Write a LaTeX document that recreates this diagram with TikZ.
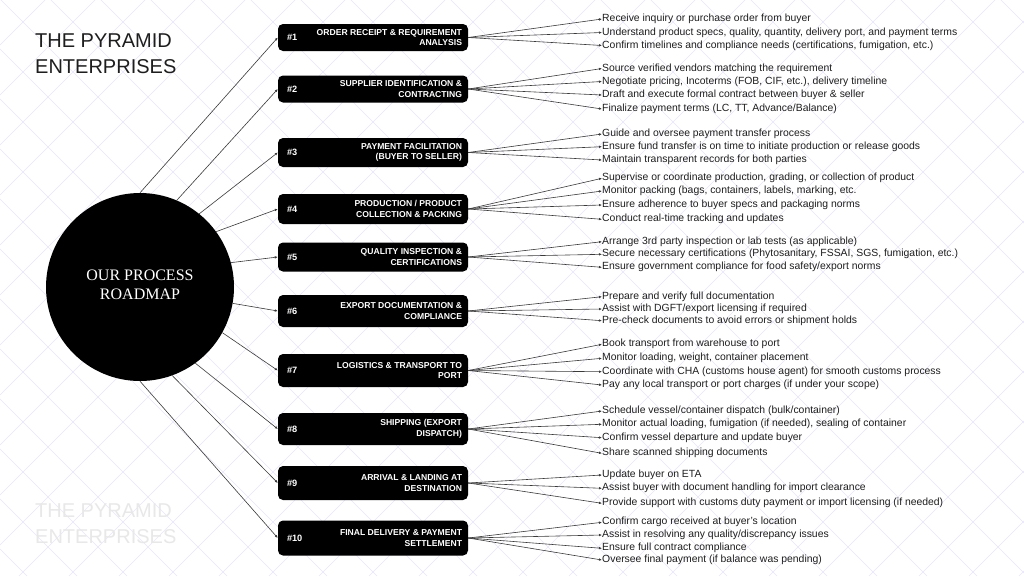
\documentclass[tikz,border=0pt]{standalone}
\usepackage{fontspec}
\setmainfont{Liberation Sans}
\newfontfamily\serifx{Liberation Serif}
\usetikzlibrary{arrows.meta}
\definecolor{gridc}{HTML}{E9E5FA}
\definecolor{linec}{HTML}{3A3A3A}
\definecolor{txtc}{HTML}{1E1E1E}
\definecolor{wmark}{HTML}{E8E8E8}
\begin{document}
\begin{tikzpicture}[x=1pt,y=-1pt,
  stepbox/.style={fill=black, rounded corners=5pt, minimum width=190pt, inner sep=0pt},
  numlbl/.style={text=white, font=\bfseries\fontsize{9.2}{10}\selectfont, anchor=west, inner sep=0pt},
  steplbl/.style={text=white, font=\bfseries\fontsize{8.6}{10.6}\selectfont, align=right, anchor=east, inner sep=0pt},
  item/.style={text=txtc, font=\fontsize{10.4}{12}\selectfont, anchor=west, inner sep=0pt},
  conn/.style={draw=linec, line width=0.6pt, -{Latex[length=3pt,width=2.6pt]}},
  titlelbl/.style={font=\fontsize{20}{24}\selectfont, anchor=base west, inner sep=0pt},
]
\useasboundingbox (0,0) rectangle (1024,576);
\fill[white] (0,0) rectangle (1024,576);
\begin{scope}
\clip (0,0) rectangle (1024,576);
\foreach \k in {-12,...,21} \draw[gridc, line width=0.6pt] ({1+50*\k},0) -- ({577+50*\k},576);
\foreach \k in {0,...,33} \draw[gridc, line width=0.6pt] ({45+50*\k},0) -- ({-531+50*\k},576);
\end{scope}

% titles
\node[titlelbl, text=txtc] (t1) at (35,47) {THE PYRAMID};
\node[titlelbl, text=txtc] (t2) at (35,73) {ENTERPRISES};
\node[titlelbl, text=wmark] (w1) at (35,517) {THE PYRAMID};
\node[titlelbl, text=wmark] (w2) at (35,543) {ENTERPRISES};

% central circle
\node[circle, fill=black, minimum size=188pt, inner sep=0pt] (c) at (140,287) {};
\node[text=white, font=\serifx\fontsize{16}{19}\selectfont, align=center, inner sep=0pt] (ct) at (140,285) {OUR PROCESS\\ROADMAP};

% step boxes
\node[stepbox, minimum height=27pt] (s1) at (373,37.5) {};
\node[stepbox, minimum height=27pt] (s2) at (373,89) {};
\node[stepbox, minimum height=29pt] (s3) at (373,152.5) {};
\node[stepbox, minimum height=30pt] (s4) at (373,209) {};
\node[stepbox, minimum height=29pt] (s5) at (373,257) {};
\node[stepbox, minimum height=32pt] (s6) at (373,311) {};
\node[stepbox, minimum height=33pt] (s7) at (373,370.5) {};
\node[stepbox, minimum height=32pt] (s8) at (373,429) {};
\node[stepbox, minimum height=34pt] (s9) at (373,483) {};
\node[stepbox, minimum height=35pt] (s10) at (373,538) {};

\foreach \i in {1,...,10} {
  \node[numlbl] (n\i) at ([xshift=9pt]s\i.west) {\#\i};
}
\node[steplbl] (l1) at ([xshift=-6pt]s1.east) {ORDER RECEIPT \& REQUIREMENT\\ANALYSIS};
\node[steplbl] (l2) at ([xshift=-6pt]s2.east) {SUPPLIER IDENTIFICATION \&\\CONTRACTING};
\node[steplbl] (l3) at ([xshift=-6pt]s3.east) {PAYMENT FACILITATION\\(BUYER TO SELLER)};
\node[steplbl] (l4) at ([xshift=-6pt]s4.east) {PRODUCTION / PRODUCT\\COLLECTION \& PACKING};
\node[steplbl] (l5) at ([xshift=-6pt]s5.east) {QUALITY INSPECTION \&\\CERTIFICATIONS};
\node[steplbl] (l6) at ([xshift=-6pt]s6.east) {EXPORT DOCUMENTATION \&\\COMPLIANCE};
\node[steplbl] (l7) at ([xshift=-6pt]s7.east) {LOGISTICS \& TRANSPORT TO\\PORT};
\node[steplbl] (l8) at ([xshift=-6pt]s8.east) {SHIPPING (EXPORT\\DISPATCH)};
\node[steplbl] (l9) at ([xshift=-6pt]s9.east) {ARRIVAL \& LANDING AT\\DESTINATION};
\node[steplbl] (l10) at ([xshift=-6pt]s10.east) {FINAL DELIVERY \& PAYMENT\\SETTLEMENT};

% circle to boxes
\draw[conn] (c.90) -- (s1.west);
\draw[conn] (c.67) -- (s2.west);
\draw[conn] (c.51) -- (s3.west);
\draw[conn] (c.36) -- (s4.west);
\draw[conn] (c.15) -- (s5.west);
\draw[conn] (c.-10) -- (s6.west);
\draw[conn] (c.-29) -- (s7.west);
\draw[conn] (c.-54) -- (s8.west);
\draw[conn] (c.-70) -- (s9.west);
\draw[conn] (c.-90) -- (s10.west);

% items
\node[item] (b1a) at (602,19) {Receive inquiry or purchase order from buyer};
\node[item] (b1b) at (602,32.5) {Understand product specs, quality, quantity, delivery port, and payment terms};
\node[item] (b1c) at (602,45.5) {Confirm timelines and compliance needs (certifications, fumigation, etc.)};
\node[item] (b2a) at (602,68.5) {Source verified vendors matching the requirement};
\node[item] (b2b) at (602,81.5) {Negotiate pricing, Incoterms (FOB, CIF, etc.), delivery timeline};
\node[item] (b2c) at (602,95) {Draft and execute formal contract between buyer \& seller};
\node[item] (b2d) at (602,109) {Finalize payment terms (LC, TT, Advance/Balance)};
\node[item] (b3a) at (602,134) {Guide and oversee payment transfer process};
\node[item] (b3b) at (602,146.7) {Ensure fund transfer is on time to initiate production or release goods};
\node[item] (b3c) at (602,160) {Maintain transparent records for both parties};
\node[item] (b4a) at (602,178.3) {Supervise or coordinate production, grading, or collection of product};
\node[item] (b4b) at (602,191) {Monitor packing (bags, containers, labels, marking, etc.};
\node[item] (b4c) at (602,205) {Ensure adherence to buyer specs and packaging norms};
\node[item] (b4d) at (602,219.3) {Conduct real-time tracking and updates};
\node[item] (b5a) at (602,241.7) {Arrange 3rd party inspection or lab tests (as applicable)};
\node[item] (b5b) at (602,254.3) {Secure necessary certifications (Phytosanitary, FSSAI, SGS, fumigation, etc.)};
\node[item] (b5c) at (602,267.3) {Ensure government compliance for food safety/export norms};
\node[item] (b6a) at (602,296.7) {Prepare and verify full documentation};
\node[item] (b6b) at (602,309) {Assist with DGFT/export licensing if required};
\node[item] (b6c) at (602,320.7) {Pre-check documents to avoid errors or shipment holds};
\node[item] (b7a) at (602,344.3) {Book transport from warehouse to port};
\node[item] (b7b) at (602,358.3) {Monitor loading, weight, container placement};
\node[item] (b7c) at (602,371.7) {Coordinate with CHA (customs house agent) for smooth customs process};
\node[item] (b7d) at (602,385) {Pay any local transport or port charges (if under your scope)};
\node[item] (b8a) at (602,411) {Schedule vessel/container dispatch (bulk/container)};
\node[item] (b8b) at (602,424.3) {Monitor actual loading, fumigation (if needed), sealing of container};
\node[item] (b8c) at (602,437.7) {Confirm vessel departure and update buyer};
\node[item] (b8d) at (602,453.3) {Share scanned shipping documents};
\node[item] (b9a) at (602,475) {Update buyer on ETA};
\node[item] (b9b) at (602,488.3) {Assist buyer with document handling for import clearance};
\node[item] (b9c) at (602,503.3) {Provide support with customs duty payment or import licensing (if needed)};
\node[item] (b10a) at (602,522.3) {Confirm cargo received at buyer’s location};
\node[item] (b10b) at (602,535) {Assist in resolving any quality/discrepancy issues};
\node[item] (b10c) at (602,548.3) {Ensure full contract compliance};
\node[item] (b10d) at (602,560) {Oversee final payment (if balance was pending)};

% boxes to items
\foreach \s/\list in {1/{a,b,c},2/{a,b,c,d},3/{a,b,c},4/{a,b,c,d},5/{a,b,c},6/{a,b,c},7/{a,b,c,d},8/{a,b,c,d},9/{a,b,c},10/{a,b,c,d}} {
  \foreach \j in \list {
    \draw[conn] (s\s.east) -- (b\s\j.west);
  }
}
\end{tikzpicture}
\end{document}
